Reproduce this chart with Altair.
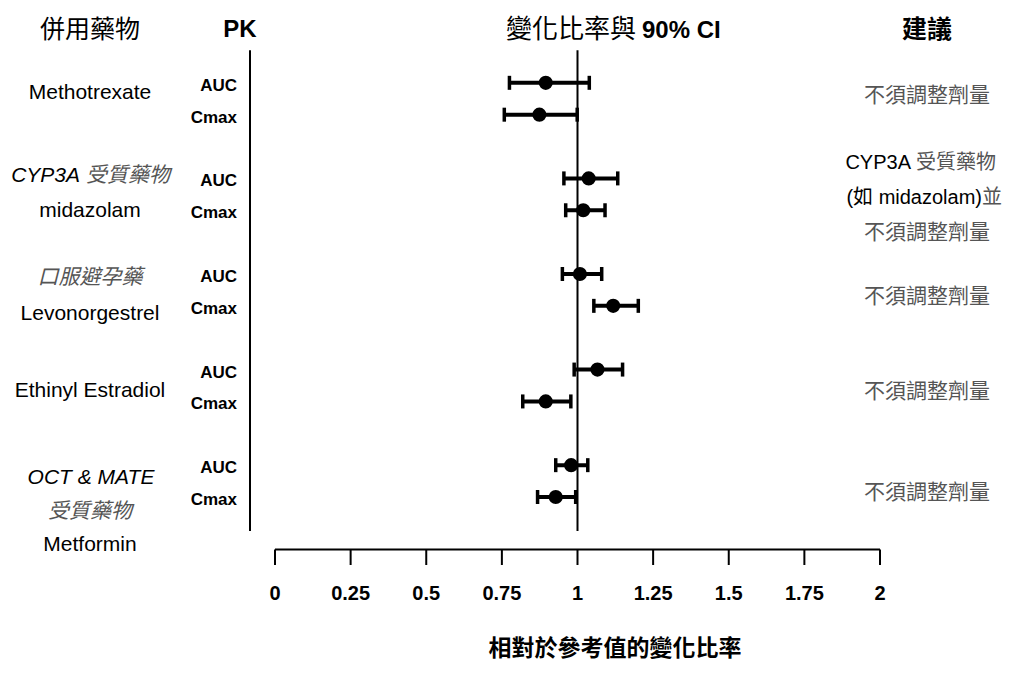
import altair as alt
import pandas as pd

# ---------------- data ----------------
drug_groups = ["Methotrexate", "midazolam", "Levonorgestrel", "Ethinyl Estradiol", "Metformin"]
pk_params = ["AUC", "Cmax"]
ratio = [0.895, 0.874, 1.037, 1.019, 1.008, 1.118, 1.066, 0.895, 0.979, 0.928]
ci_low = [0.775, 0.758, 0.955, 0.961, 0.950, 1.054, 0.989, 0.819, 0.928, 0.868]
ci_high = [1.039, 0.999, 1.133, 1.091, 1.080, 1.201, 1.149, 0.978, 1.034, 0.994]
reference_ratio = 1.0
tick_values = [0, 0.25, 0.5, 0.75, 1, 1.25, 1.5, 1.75, 2]
tick_labels = ["0", "0.25", "0.5", "0.75", "1", "1.25", "1.5", "1.75", "2"]

header_texts = ["併用藥物", "PK", "變化比率與", "90% CI", "建議"]
x_title = "相對於參考值的變化比率"
left_texts = ["Methotrexate", "CYP3A", "受質藥物", "midazolam", "口服避孕藥",
              "Levonorgestrel", "Ethinyl Estradiol", "OCT & MATE", "受質藥物", "Metformin"]
recommend_texts = ["不須調整劑量", "CYP3A", "受質藥物", "(如 midazolam)", "並",
                   "不須調整劑量", "不須調整劑量", "不須調整劑量", "不須調整劑量"]

# ---------------- layout helpers (page pixels -> scale units) ----------------
X0, XUNIT = 275.0, 302.5      # page x of value 0, px per unit
Y0, YUNIT = 82.7, 31.87       # page y of row 0, px per row


def fx(px):
    return (px - X0) / XUNIT


def fy(py):
    return (py - Y0) / YUNIT


xs = alt.Scale(domain=[0, 2], nice=False, zero=False)
ys = alt.Scale(domain=[-1.03, 14.6], reverse=True, nice=False, zero=False)

LAT = "Liberation Sans, Arial, Noto Sans CJK TC, sans-serif"
CJK = "Noto Sans CJK TC, Liberation Sans, sans-serif"

rows = []
for i, d in enumerate(drug_groups):
    for j, p in enumerate(pk_params):
        k = 2 * i + j
        rows.append(dict(drug=d, pk=p, row=3 * i + j, ratio=ratio[k], lo=ci_low[k], hi=ci_high[k]))
df = pd.DataFrame(rows)

X = lambda f: alt.X(f, type="quantitative", scale=xs, axis=None)
Y = lambda f: alt.Y(f, type="quantitative", scale=ys, axis=None)

# ---------------- x axis (drawn from tick_values through the x scale) ----------------
AX_Y, TICK_END, LABEL_Y = fy(549.5), fy(565), fy(594)
ticks_df = pd.DataFrame({"v": tick_values, "lab": tick_labels, "y": AX_Y, "y2": TICK_END, "ly": LABEL_Y})
axis_line = alt.Chart(pd.DataFrame({"a": [min(tick_values)], "b": [max(tick_values)], "y": [AX_Y]})).mark_rule(
    color="black", strokeWidth=2).encode(x=X("a"), x2="b:Q", y=Y("y"))
axis_ticks = alt.Chart(ticks_df).mark_rule(color="black", strokeWidth=2).encode(
    x=X("v"), y=Y("y"), y2="y2:Q")
axis_labels = alt.Chart(ticks_df).mark_text(
    font=LAT, fontWeight="bold", fontSize=20, color="black", align="center", baseline="middle").encode(
    x=X("v"), y=Y("ly"), text="lab:N")

# ---------------- forest plot ----------------
bars = alt.Chart(df).mark_rule(color="black", strokeWidth=4).encode(
    x=X("lo"), x2="hi:Q", y=Y("row"))
lines_df = pd.DataFrame({"x": [reference_ratio, fx(250)], "y": [fy(50), fy(50)], "y2": [fy(531), fy(531)]})
vlines = alt.Chart(lines_df).mark_rule(color="black", strokeWidth=2).encode(
    x=X("x"), y=Y("y"), y2="y2:Q")
cap_lo = alt.Chart(df).mark_tick(orient="vertical", color="black", size=14, thickness=3.5, opacity=1).encode(
    x=X("lo"), y=Y("row"))
cap_hi = alt.Chart(df).mark_tick(orient="vertical", color="black", size=14, thickness=3.5, opacity=1).encode(
    x=X("hi"), y=Y("row"))
pts = alt.Chart(df).mark_circle(color="black", size=200, opacity=1).encode(
    x=X("ratio"), y=Y("row"))

pk_labels = alt.Chart(df).mark_text(align="right", baseline="middle", font=LAT, fontWeight="bold",
                                    fontSize=17, color="black", dy=3).encode(
    x=alt.X("px:Q", scale=xs, axis=None), y=Y("row"), text="pk:N").transform_calculate(px=str(fx(237)))


def txt(items, **kw):
    d = pd.DataFrame(items, columns=["t", "x", "y"])
    base = dict(baseline="middle", color="black")
    base.update(kw)
    return alt.Chart(d).mark_text(**base).encode(x=X("x"), y=Y("y"), text="t:N")


layers = [axis_line, axis_ticks, axis_labels, bars, vlines, cap_lo, cap_hi, pts, pk_labels]

# headers
layers += [
    txt([(header_texts[0], fx(90), fy(30))], align="center", font=CJK, fontSize=25),
    txt([(header_texts[1], fx(240), fy(30))], align="center", font=LAT, fontSize=24, fontWeight="bold"),
    txt([(header_texts[2], fx(636), fy(30))], align="right", font=CJK, fontSize=26),
    txt([(header_texts[3], fx(642), fy(31))], align="left", font=LAT, fontSize=24, fontWeight="bold"),
    txt([(header_texts[4], fx(927), fy(30))], align="center", font=CJK, fontSize=25, fontWeight="bold"),
]

# left column
layers += [
    txt([(left_texts[0], fx(90), fy(93)), (left_texts[3], fx(90), fy(211)),
         (left_texts[5], fx(90), fy(314)), (left_texts[6], fx(90), fy(391)),
         (left_texts[9], fx(90), fy(545))], align="center", font=LAT, fontSize=21),
    txt([(left_texts[1], fx(80), fy(176))], align="right", font=LAT, fontSize=21, fontStyle="italic"),
    txt([(left_texts[7], fx(91), fy(478))], align="center", font=LAT, fontSize=21, fontStyle="italic"),
    txt([(left_texts[2], fx(86), fy(176))], align="left", font=CJK, fontSize=21, fontStyle="italic", color="#555555"),
    txt([(left_texts[4], fx(90), fy(278)), (left_texts[8], fx(90), fy(512))],
        align="center", font=CJK, fontSize=21, fontStyle="italic", color="#555555"),
]

# right column
layers += [
    txt([(recommend_texts[0], fx(927), fy(96)), (recommend_texts[5], fx(927), fy(233)),
         (recommend_texts[6], fx(927), fy(297)), (recommend_texts[7], fx(927), fy(392)),
         (recommend_texts[8], fx(927), fy(493))], align="center", font=CJK, fontSize=21, color="#555555"),
    txt([(recommend_texts[1], fx(911), fy(163))], align="right", font=LAT, fontSize=20),
    txt([(recommend_texts[2], fx(916), fy(163))], align="left", font=CJK, fontSize=20, color="#555555"),
    txt([(recommend_texts[3], fx(982), fy(198))], align="right", font=LAT, fontSize=20),
    txt([(recommend_texts[4], fx(982), fy(198))], align="left", font=CJK, fontSize=20, color="#555555"),
]

# axis title
layers += [txt([(x_title, fx(615), fy(649))], align="center", font=CJK, fontSize=23, fontWeight="bold")]

chart = alt.layer(*layers).properties(
    width=605, height=498,
    padding={"left": 267, "top": 42, "right": 123, "bottom": 117},
    autosize=alt.AutoSizeParams(type="none"),
    background="white",
).configure_view(stroke=None)

chart.save("out.html", embed_options={"renderer": "svg", "actions": False})
